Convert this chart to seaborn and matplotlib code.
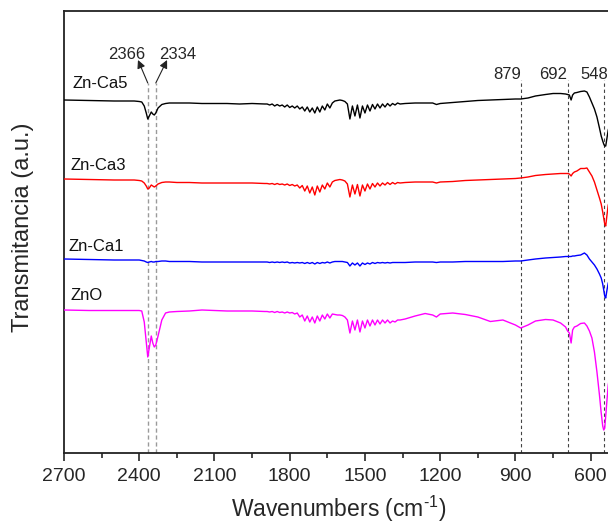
import numpy as np
import pandas as pd
import matplotlib
matplotlib.use("Agg")
import matplotlib.pyplot as plt
import seaborn as sns

# Wavenumber axis (cm^-1), shared by all spectra
wavenumber = [
    2700, 2600, 2500, 2420, 2400, 2390, 2380, 2372, 2366, 2360, 2352, 2346, 2340,
    2334, 2325, 2310, 2295, 2280, 2250, 2200, 2150, 2100, 2050, 2000, 1950, 1900,
    1890, 1880, 1870, 1860, 1850, 1840, 1830, 1820, 1810, 1800, 1790, 1780, 1770,
    1760, 1750, 1740, 1730, 1720, 1710, 1700, 1690, 1680, 1670, 1660, 1650, 1640,
    1630, 1620, 1610, 1600, 1590, 1580, 1570, 1560, 1550, 1540, 1530, 1520, 1510,
    1500, 1490, 1480, 1470, 1460, 1450, 1440, 1430, 1420, 1410, 1400, 1390, 1380,
    1370, 1360,
    1340, 1300, 1260, 1230, 1215, 1200, 1150, 1100, 1050, 1000, 950, 900, 879,
    850, 820, 780, 750, 720, 700, 692, 685, 678, 672, 665, 655, 640,
    625, 615, 605, 595, 585, 575, 565, 558, 552, 548, 544, 540, 535, 530, 520,
]

# Offset transmittance traces (a.u.)
zn_ca5 = [
    353, 352.5, 352, 352, 351.5, 351, 347, 340, 334, 337, 341, 339, 338,
    340, 345, 348.5, 349.5, 350, 350, 350, 349.5, 349.5, 349.5, 349, 349.5, 349,
    349, 348, 349, 347, 348.5, 347, 348, 346, 348, 345.5, 347, 345, 347,
    344, 346, 342, 346, 341, 345, 340, 346, 341, 347, 343, 349, 345,
    350, 352, 352.5, 353, 352.5, 351.5, 349, 334, 347, 337, 348, 335, 347,
    340, 348, 342, 348.5, 344, 349, 345, 349, 346, 349.5, 347, 349.5, 348,
    350, 349,
    349.5, 350, 350, 350, 348.5, 349.5, 350.5, 351.5, 352.5, 353, 353.5, 354, 354,
    355, 357, 358.5, 359.5, 359.5, 359, 358.5, 358, 353, 358, 360, 360.5, 361.5,
    362, 361, 356, 350, 344, 336, 325, 317, 312, 309, 307, 307, 315, 323, 331,
]
zn_ca3 = [
    274, 273.5, 273, 273, 272.5, 272, 270, 267, 264, 265, 268, 267, 266,
    267, 269, 270.5, 271, 271, 270.5, 270.5, 270, 270, 270, 270, 270, 269.5,
    269.5, 269, 269.5, 268.5, 269.5, 268.5, 269, 268, 269, 267.5, 268.5, 267, 268,
    265, 267.5, 262, 267, 260, 266, 258, 267, 261, 268, 264, 270, 266,
    271, 272.5, 273, 273.5, 273, 272, 269, 256, 268, 259, 268.5, 257, 268,
    262, 269, 264, 269.5, 266, 270, 267, 270, 268, 270.5, 268.5, 270.5, 269,
    270.5, 270,
    270.5, 271, 271, 271, 270, 271, 271.5, 272.5, 273, 273.5, 274, 274.5, 275,
    276, 277.5, 278.5, 279, 279.5, 279.5, 279.5, 279, 277, 279.5, 281, 282, 284.5,
    284.5, 285, 281, 277, 271, 263, 255, 249, 241, 235, 229, 227, 238, 248, 255,
]
zn_ca1 = [
    194, 193.5, 193, 193, 193, 192.5, 192, 191, 190.5, 191, 191.5, 191, 191,
    191.5, 191.5, 192, 192, 191.5, 191.5, 191.5, 191, 191, 191, 191, 191, 191,
    191, 190.5, 191, 190.5, 191, 190.5, 191, 190.5, 191, 190, 190.5, 190, 190.5,
    190, 190.5, 189.5, 190.5, 189.5, 190.5, 189, 190.5, 189.5, 190.5, 190, 191, 190,
    191, 191.5, 191.5, 191.5, 191.5, 191, 190.5, 187, 190, 188, 190, 187, 190,
    188.5, 190, 189, 190.5, 189.5, 190.5, 190, 190.5, 190, 190.5, 190, 190.5, 190.5,
    190.5, 190.5,
    190.5, 191, 191, 191, 190.5, 191, 191, 191.5, 191.5, 191.5, 191.5, 192, 192,
    193, 194, 195, 195.5, 196, 196.5, 196.5, 196.5, 196.5, 197, 197, 197.5, 198,
    200, 198, 194, 191, 188, 184, 179, 175, 169, 163, 157, 155, 163, 170, 175,
]
zno = [
    143, 142.5, 142.5, 142.5, 142.5, 142, 131, 111, 96, 105, 117, 110, 106,
    108, 117, 133, 140, 141, 141.5, 142, 143, 142.5, 142, 142, 142, 141.5,
    141.5, 141, 141.5, 140.5, 141.5, 140.5, 141, 140, 141, 140, 140.5, 139, 140,
    136, 138, 132, 137, 131, 136, 130, 137, 132, 138, 134, 139, 135,
    139, 138.5, 138, 138, 137.5, 136, 133, 120, 132, 123, 133, 121, 132,
    125, 133, 127, 133, 128, 133, 129, 133, 130, 133, 130, 132, 131,
    133, 133,
    134, 137, 139.5, 138, 136, 139, 140, 138.5, 136, 131.5, 133, 128, 125,
    128, 132, 133.5, 133, 130, 126, 122, 120, 110, 123, 126, 127, 129.5,
    130, 127, 122, 115, 101, 81, 58, 40, 27, 23, 25, 37, 53, 68, 83,
]

samples = ["Zn-Ca5", "Zn-Ca3", "Zn-Ca1", "ZnO"]
colors = ["#000000", "#ff0000", "#0000ff", "#ff00ff"]
# label anchor (wavenumber, a.u.) for each trace name
label_wn = [2665, 2673, 2683, 2673]
label_y = [365, 283.5, 202, 153]

# marked bands
co2_bands = [2366, 2334]
other_bands = [879, 692, 548]
other_label_wn = [879, 692, 532]

df = pd.DataFrame({
    "wavenumber": wavenumber * 4,
    "T": zn_ca5 + zn_ca3 + zn_ca1 + zno,
    "sample": sum([[s] * len(wavenumber) for s in samples], []),
})

sns.set_style("ticks")
plt.rcParams["font.family"] = ["Liberation Sans", "DejaVu Sans"]
plt.rcParams["mathtext.fontset"] = "custom"
plt.rcParams["mathtext.rm"] = "Liberation Sans"

fig = plt.figure(figsize=(6.08, 5.24), dpi=100)
# plot area runs slightly past the right edge of the canvas
ax = fig.add_axes([64 / 608, 71 / 524, 550 / 608, 442 / 524])

# dashed band markers
ax.vlines(co2_bands, 0, 370, colors="#9a9a9a", linestyles=(0, (3, 2)), linewidth=1.0, zorder=1)
ax.vlines(other_bands, 0, 373, colors="#444444", linestyles=(0, (3, 2.5)), linewidth=0.8, zorder=1)

sns.lineplot(data=df, x="wavenumber", y="T", hue="sample", palette=colors,
             hue_order=samples, sort=False, estimator=None, legend=False,
             linewidth=1.0, ax=ax, zorder=3)

ax.set_xlim(2700, 507)
ax.set_ylim(0, 442)
ax.set_xticks([2700, 2400, 2100, 1800, 1500, 1200, 900, 600])
ax.set_xticks([2550, 2250, 1950, 1650, 1350, 1050, 750], minor=True)
ax.set_yticks([])
ax.tick_params(axis="x", which="major", direction="out", length=6, width=1.2,
               labelsize=14, pad=5)
ax.tick_params(axis="x", which="minor", direction="out", length=3.5, width=1.2)
for side in ["left", "bottom", "top", "right"]:
    ax.spines[side].set_linewidth(1.3)
    ax.spines[side].set_color("#222222")

ax.set_xlabel(r"Wavenumbers (cm$^{\text{-1}}$)", fontsize=16.5, labelpad=6)
ax.set_ylabel("Transmitancia (a.u.)", fontsize=17)
ax.yaxis.set_label_coords(-0.055, 0.511)

for name, lx, ly in zip(samples, label_wn, label_y):
    ax.text(lx, ly, name, fontsize=12, ha="left", va="baseline", color="#111111")

# CO2 band labels with arrows
ax.annotate("", xy=(2405, 393), xytext=(co2_bands[0], 370),
            arrowprops=dict(arrowstyle="-|>", color="#222222", lw=0.8,
                            mutation_scale=12, shrinkA=0, shrinkB=0))
ax.annotate("", xy=(2289, 393), xytext=(co2_bands[1], 370),
            arrowprops=dict(arrowstyle="-|>", color="#222222", lw=0.8,
                            mutation_scale=12, shrinkA=0, shrinkB=0))
ax.text(2449, 394, str(co2_bands[0]), fontsize=12, ha="center", va="baseline")
ax.text(2245, 394, str(co2_bands[1]), fontsize=12, ha="center", va="baseline")

for b, lx in zip(other_bands, other_label_wn):
    ax.text(lx, 374, str(b), fontsize=12, ha="right", va="baseline")

fig.savefig("out.png", dpi=100)
